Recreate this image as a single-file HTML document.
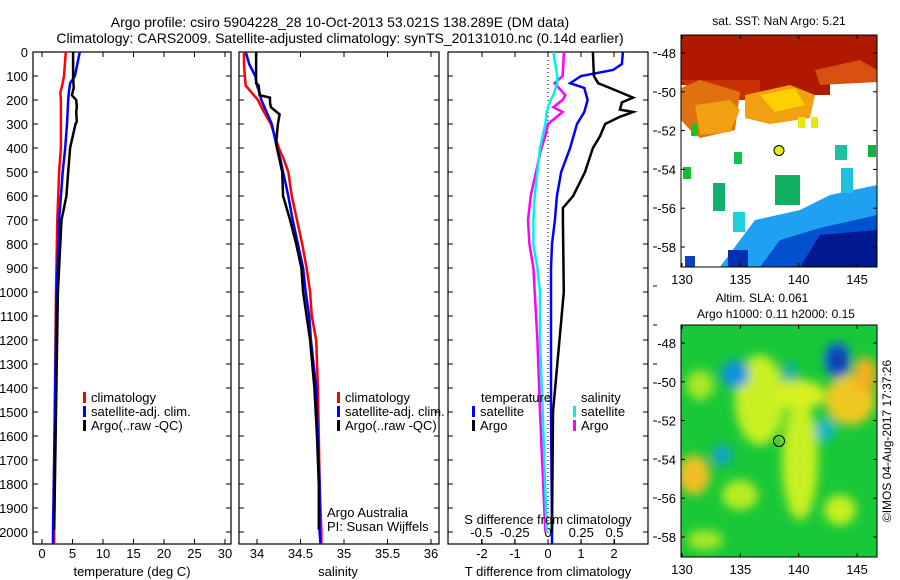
<!DOCTYPE html>
<html><head><meta charset="utf-8"><style>
html,body{margin:0;padding:0;background:#fff;}
svg{display:block;font-family:"Liberation Sans",sans-serif;}
text{font-size:13px;fill:#000;}
</style></head><body>
<svg id="fig" width="900" height="580" viewBox="0 0 900 580" xmlns="http://www.w3.org/2000/svg">
<defs>
<filter id="blur4" x="-50%" y="-50%" width="200%" height="200%"><feGaussianBlur stdDeviation="5"/></filter>
<clipPath id="clipTop"><rect x="681" y="35" width="196" height="232"/></clipPath>
<clipPath id="clipBot"><rect x="681" y="325" width="196" height="232"/></clipPath>
</defs>
<text x="340" y="27" text-anchor="middle" font-size="14" style="font-size:14px">Argo profile: csiro 5904228_28 10-Oct-2013 53.021S 138.289E (DM data)</text>
<text x="340" y="43" text-anchor="middle" style="font-size:14px">Climatology: CARS2009. Satellite-adjusted climatology: synTS_20131010.nc (0.14d earlier)</text>

<!-- top map -->
<g clip-path="url(#clipTop)">
<rect x="681" y="35" width="196" height="232" fill="#fff"/>
<path d="M681 35H877V82H830V95H800V110H760V92H730V100H700V85H681Z" fill="#b01800"/>
<path d="M681 80H760V100H700Z" fill="#c83000"/>
<path d="M681 88L700 80L740 92L735 130L700 138L690 130L681 120Z" fill="#e07010"/>
<path d="M695 105L730 100L740 110L730 132L700 135Z" fill="#f0a010"/>
<path d="M745 95L790 85L815 95L810 118L770 124L745 118Z" fill="#f0a010"/>
<path d="M760 95L795 88L805 105L775 112Z" fill="#ffd000"/>
<path d="M815 70L860 60L877 70L877 82L820 85Z" fill="#d85010"/>
<rect x="691" y="124" width="6" height="12" fill="#20c020"/>
<rect x="798" y="117" width="7" height="11" fill="#e8e800"/>
<rect x="811" y="117" width="7" height="11" fill="#e8e800"/>
<rect x="734" y="152" width="8" height="12" fill="#10c050"/>
<rect x="683" y="167" width="8" height="12" fill="#10c030"/>
<rect x="713" y="183" width="12" height="28" fill="#10b070"/>
<rect x="775" y="175" width="25" height="30" fill="#10b060"/>
<rect x="835" y="145" width="12" height="15" fill="#20c0a0"/>
<rect x="868" y="145" width="8" height="12" fill="#10b040"/>
<path d="M755 220L800 210L830 195L877 185L877 267H720L740 240Z" fill="#20a0f0"/>
<path d="M780 240L820 228L877 215L877 267H760Z" fill="#0050d0"/>
<path d="M820 235L877 230L877 267H800Z" fill="#001890"/>
<rect x="685" y="256" width="10" height="11" fill="#1040c0"/>
<rect x="728" y="250" width="20" height="17" fill="#0030b0"/>
<rect x="733" y="212" width="12" height="20" fill="#20d0e0"/>
<rect x="841" y="168" width="12" height="25" fill="#20c0e0"/>
</g>
<rect x="681" y="35" width="196" height="232" fill="none" stroke="#000" stroke-width="1"/>
<circle cx="779" cy="150.5" r="5" fill="#e0f000" stroke="#000" stroke-width="1"/>
<text x="779" y="25" text-anchor="middle" style="font-size:12px">sat. SST: NaN Argo: 5.21</text>

<!-- bottom map -->
<g clip-path="url(#clipBot)">
<rect x="681" y="325" width="196" height="232" fill="#18c838"/>
<g filter="url(#blur4)">
<ellipse cx="760" cy="400" rx="25" ry="45" fill="#c8f020"/>
<ellipse cx="800" cy="460" rx="18" ry="60" fill="#c8f020"/>
<ellipse cx="850" cy="400" rx="25" ry="25" fill="#f0c820"/>
<ellipse cx="865" cy="375" rx="12" ry="18" fill="#f0b020"/>
<ellipse cx="694" cy="475" rx="16" ry="20" fill="#f0c020"/>
<ellipse cx="700" cy="385" rx="14" ry="15" fill="#a8e828"/>
<ellipse cx="740" cy="495" rx="18" ry="15" fill="#b8ec20"/>
<ellipse cx="840" cy="510" rx="16" ry="15" fill="#c8f020"/>
<ellipse cx="735" cy="374" rx="14" ry="14" fill="#1090e0"/>
<ellipse cx="837" cy="360" rx="13" ry="18" fill="#1060d0"/>
<ellipse cx="825" cy="430" rx="10" ry="12" fill="#10b8c8"/>
<ellipse cx="722" cy="455" rx="10" ry="10" fill="#10a0d0"/>
<ellipse cx="790" cy="375" rx="8" ry="14" fill="#10b0a0"/>
<ellipse cx="705" cy="540" rx="18" ry="10" fill="#a8e828"/>
<ellipse cx="800" cy="395" rx="25" ry="15" fill="#d8f020"/>
</g>
<ellipse cx="838" cy="360" rx="5" ry="9" fill="#102890" filter="url(#blur4)"/>
</g>
<rect x="681" y="325" width="196" height="232" fill="none" stroke="#000" stroke-width="1"/>
<circle cx="779" cy="441" r="5.5" fill="none" stroke="#000" stroke-width="1"/>
<text x="762" y="302" text-anchor="middle" style="font-size:12px">Altim. SLA: 0.061</text>
<text x="776" y="318" text-anchor="middle" style="font-size:12px">Argo h1000: 0.11 h2000: 0.15</text>
<text transform="translate(891,441) rotate(-90)" text-anchor="middle" style="font-size:12px">©IMOS 04-Aug-2017 17:37:26</text>
<g id="dyn"></g>
</svg>
<script>
// ---------- data ----------
const tDepth = [0,100,130,170,200,300,400,500,700,1000,1500,2000,2050];
const tClim  = [3.9,3.6,3.4,3.0,3.1,3.1,3.1,2.8,2.5,2.3,2.1,2.0,2.0];
const tSat   = [6.2,5.4,4.6,4.4,4.3,4.1,3.8,3.4,2.8,2.4,2.1,1.8,1.8];
const tArgoDepth = [0,100,150,180,200,230,250,290,300,400,500,600,650,700,1000,1500,1990];
const tArgo  = [5.1,5.1,5.2,4.9,5.6,5.7,5.6,5.7,5.5,4.6,4.3,4.0,3.6,3.2,2.6,2.3,2.0];

const sDepth = [0,50,100,140,170,200,250,300,400,450,500,600,700,800,900,1000,1100,1200,1400,1600,1800,2000,2050];
const sClim  = [33.85,33.85,33.86,33.87,33.94,34.01,34.08,34.16,34.25,34.31,34.36,34.40,34.46,34.52,34.57,34.61,34.63,34.68,34.70,34.71,34.72,34.74,34.74];
const sSat   = [33.87,33.91,33.98,34.0,34.03,34.05,34.11,34.17,34.23,34.27,34.30,34.36,34.41,34.47,34.53,34.56,34.60,34.62,34.68,34.70,34.72,34.72,34.73];
const sArgoDepth = [0,130,140,180,190,210,230,260,300,380,400,500,600,700,800,900,1000,1100,1200,1400,1600,1800,1990];
const sArgo  = [33.99,33.99,34.02,34.03,34.15,34.15,34.16,34.26,34.24,34.22,34.23,34.29,34.30,34.38,34.45,34.51,34.53,34.57,34.61,34.66,34.69,34.71,34.71];

const dDepth = [0,50,75,100,130,150,200,250,300,400,500,600,700,800,900,1000,1500,2000,2050];
const dTSat  = [2.27,2.24,1.97,1.0,0.67,1.1,1.2,1.1,0.88,0.67,0.40,0.27,0.21,0.12,0.09,0.09,0.09,0.12,0.12];
const dArgoDepth = [0,100,130,150,190,210,240,250,270,300,350,400,500,600,650,700,1000,1500,2000];
const dTArgo = [1.36,1.39,1.52,1.88,2.58,2.24,2.18,2.58,2.18,1.73,1.58,1.36,1.12,0.76,0.45,0.45,0.48,0.15,0.12];
const sdDepth = [0,100,130,180,200,230,250,300,350,400,500,600,700,800,900,1000,1200,1500,2000];
const dSArgo = [0.12,0.11,0.05,0.13,0.11,0.04,0.11,0.0,-0.02,-0.05,-0.09,-0.13,-0.15,-0.14,-0.11,-0.10,-0.08,-0.06,-0.02];
const dSSat  = [0.04,0.07,0.07,0.04,0.02,0.0,-0.01,-0.02,-0.04,-0.06,-0.08,-0.10,-0.11,-0.11,-0.08,-0.06,-0.06,-0.04,-0.01];

const depthTicks = [0,100,200,300,400,500,600,700,800,900,1000,1100,1200,1300,1400,1500,1600,1700,1800,1900,2000];
const tTicks = [0,5,10,15,20,25,30];
const sTicks = ["34","34.5","35","35.5","36"];
const dTTicks = ["-2","-1","0","1","2"];
const dSTicks = ["-0.5","-0.25","0","0.25","0.5"];
const latTicks = [-48,-50,-52,-54,-56,-58];
const lonTicks = [130,135,140,145];

// ---------- scales ----------
const yD = d => 52 + d*0.24;
const xT = t => 42 + t*6.1;
const xS = s => 257 + (s-34)*87;
const xDT = v => 548 + v*33;
const xDS = v => 548 + v*133;
const yLat1 = l => 53 + (-48 - l)*19.4;
const yLat2 = l => 343 + (-48 - l)*19.4;
const xLon = l => 682 + (l-130)*11.67;

const NS="http://www.w3.org/2000/svg";
const g=document.getElementById('dyn');
function el(tag,attrs,parent){const e=document.createElementNS(NS,tag);for(const k in attrs)e.setAttribute(k,attrs[k]);(parent||g).appendChild(e);return e;}
function txt(x,y,s,anchor,parent){const t=el('text',{x:x,y:y,'text-anchor':anchor||'middle'},parent);t.textContent=s;return t;}

function frame(x0,x1,name){
  const r=el('rect',{x:x0,y:52,width:x1-x0,height:492,fill:'none',stroke:'#000','stroke-width':1.2});
  
  
  depthTicks.forEach(d=>{
    const y=yD(d);
    el('line',{x1:x0,x2:x0+5,y1:y,y2:y,stroke:'#000'});
    el('line',{x1:x1-5,x2:x1,y1:y,y2:y,stroke:'#000'});
  });
}
function line(xs,ds,xf,color,name){
  const pts=xs.map((v,i)=>xf(v).toFixed(1)+','+yD(ds[i]).toFixed(1)).join(' ');
  const p=el('polyline',{points:pts,fill:'none',stroke:color,'stroke-width':2.5,'stroke-linejoin':'miter'});
  
  
}
function xtick(x,lbl,y,name){
  el('line',{x1:x,x2:x,y1:544,y2:539,stroke:'#000'});
  el('line',{x1:x,x2:x,y1:52,y2:57,stroke:'#000'});
  const t=txt(x,y,lbl);
  
  
}

// panel 1
frame(33,231,'temperature-panel');
depthTicks.forEach(d=>{const t=txt(28,yD(d)+5,String(d),'end');
  
  });
tTicks.forEach(v=>xtick(xT(v),String(v),558,'temperature-tick-label'));
line(tClim,tDepth,xT,'#ff0000','temperature-climatology-line');
line(tSat,tDepth,xT,'#0000ff','temperature-satellite-line');
line(tArgo,tArgoDepth,xT,'#000','temperature-argo-line');
const a1=txt(132,576,'temperature (deg C)');



// panel 2
frame(239,439,'salinity-panel');
sTicks.forEach(v=>xtick(xS(parseFloat(v)),v,558,'salinity-tick-label'));
line(sClim,sDepth,xS,'#ff0000','salinity-climatology-line');
line(sSat,sDepth,xS,'#0000ff','salinity-satellite-line');
line(sArgo,sArgoDepth,xS,'#000','salinity-argo-line');
const a2=txt(338,576,'salinity');



// panel 3
frame(448,648,'difference-panel');
el('line',{x1:548,x2:548,y1:52,y2:544,stroke:'#000','stroke-dasharray':'1,3'});
dTTicks.forEach(v=>xtick(xDT(parseFloat(v)),v,558,'t-difference-tick-label'));
dSTicks.forEach((v,i)=>{const t=txt(xDS(parseFloat(v)),537,v);
  
  
  el('line',{x1:xDS(parseFloat(v)),x2:xDS(parseFloat(v)),y1:539,y2:544,stroke:'#000'});});
line(dSArgo,sdDepth,xDS,'#ff00ff','salinity-diff-argo-line');
line(dSSat,sdDepth,xDS,'#00f0f0','salinity-diff-satellite-line');
line(dTSat,dDepth,xDT,'#0000ff','temperature-diff-satellite-line');
line(dTArgo,dArgoDepth,xDT,'#000','temperature-diff-argo-line');
const a3=txt(548,576,'T difference from climatology');


const a4=txt(548,524,'S difference from climatology');


[52.7,92,131,169,208,247,286,325,364,383,421,459,498,537].forEach(y=>el('line',{x1:653,x2:657,y1:y,y2:y,stroke:'#000'}));

// legends
function leg(x,y,color,label,name){
  el('rect',{x:x,y:y-10,width:3,height:11,fill:color});
  const t=txt(x+8,y,label,'start');
  
  
}
leg(83,402,'#ff0000','climatology','legend-climatology');
leg(83,416,'#0000ff','satellite-adj. clim.','legend-satellite');
leg(83,430,'#000','Argo(..raw -QC)','legend-argo');
leg(337,402,'#ff0000','climatology','legend-climatology-2');
leg(337,416,'#0000ff','satellite-adj. clim.','legend-satellite-2');
leg(337,430,'#000','Argo(..raw -QC)','legend-argo-2');
txt(481,402,'temperature','start');
leg(472,416,'#0000ff','satellite','legend-t-satellite');
leg(472,430,'#000','Argo','legend-t-argo');
txt(581,402,'salinity','start');
leg(573,416,'#00f0f0','satellite','legend-s-satellite');
leg(573,430,'#ff00ff','Argo','legend-s-argo');
txt(327,517,'Argo Australia','start');
txt(327,531,'PI: Susan Wijffels','start');

// map axes
latTicks.forEach(l=>{
  [[yLat1(l)],[yLat2(l)]].forEach(([y])=>{
    const t=txt(676,y+5,String(l),'end');
    
    
    el('line',{x1:681,x2:685,y1:y,y2:y,stroke:'#000'});
    el('line',{x1:873,x2:877,y1:y,y2:y,stroke:'#000'});
  });
});
lonTicks.forEach(l=>{
  const x=xLon(l);
  [[267,284],[557,574]].forEach(([yb,yl])=>{
    const t=txt(x,yl,String(l));
    
    
    el('line',{x1:x,x2:x,y1:yb,y2:yb-4,stroke:'#000'});
    el('line',{x1:x,x2:x,y1:yb-232,y2:yb-228,stroke:'#000'});
  });
});
</script>
</body></html>
